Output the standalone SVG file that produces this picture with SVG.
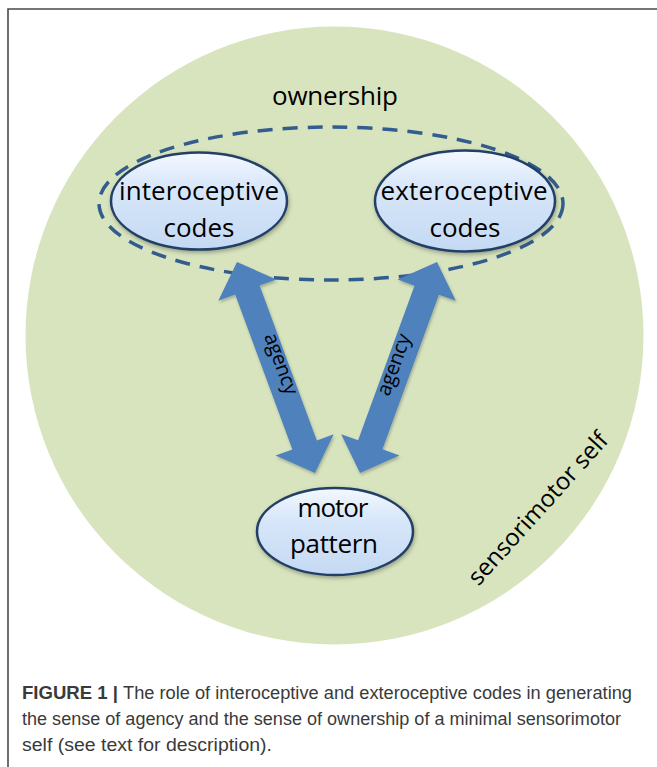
<svg xmlns="http://www.w3.org/2000/svg" width="657" height="767" viewBox="0 0 657 767">
<defs>
<linearGradient id="nodeFill" x1="0" y1="0" x2="0" y2="1">
<stop offset="0" stop-color="#F4F8FE"/>
<stop offset="0.35" stop-color="#D8E7FA"/>
<stop offset="1" stop-color="#C4D9F3"/>
</linearGradient>
<filter id="shadow" x="-20%" y="-20%" width="140%" height="150%">
<feDropShadow dx="1" dy="2" stdDeviation="2" flood-color="#000" flood-opacity="0.3"/>
</filter>
<filter id="arrowShadow" x="-20%" y="-20%" width="140%" height="140%">
<feDropShadow dx="1" dy="2" stdDeviation="1.5" flood-color="#000" flood-opacity="0.25"/>
</filter>
<style>
.node{fill:url(#nodeFill);stroke:#243F66;stroke-width:2.5;filter:url(#shadow)}
.lbl{font-family:"Open Sans","Noto Sans","DejaVu Sans",sans-serif;font-size:26px;fill:#000;text-anchor:middle}
.agency{font-family:"Open Sans","Noto Sans","DejaVu Sans",sans-serif;font-size:20px;fill:#000;text-anchor:middle}
.arrow{fill:#4F81BD;filter:url(#arrowShadow)}
.cap{font-family:"Liberation Sans",Arial,sans-serif;font-size:17.5px;fill:#3A3A3A}
</style>
</defs>
<rect width="657" height="767" fill="#FFFFFF"/>
<path d="M8,767 V9 H657" fill="none" stroke="#4A4A4A" stroke-width="1.6"/>
<g id="sensorimotor-self">
<circle cx="334.5" cy="335.5" r="309" fill="#D8E4BE"/>
<text class="lbl" font-size="24" transform="translate(544,514) rotate(-48)" style="font-size:24px" textLength="196">sensorimotor self</text>
</g>
<g id="ownership">
<ellipse cx="331" cy="203.5" rx="232" ry="76.5" fill="none" stroke="#335C8F" stroke-width="3.5" stroke-dasharray="15 10"/>
<text class="lbl" x="335" y="105" textLength="126">ownership</text>
</g>
<g id="connectors">
<g id="agency-left">
<polygon class="arrow" points="237,262 276.5,279.4 259.6,285.6 316.8,440.4 333.7,434.2 315,473 275.5,455.6 292.4,449.4 235.2,294.6 218.3,300.8"/>
<text class="agency" transform="translate(275,366) rotate(70)" textLength="64">agency</text>
</g>
<g id="agency-right">
<polygon class="arrow" points="437,262 455.8,300.8 438.9,294.7 382.5,449.3 399.4,455.4 360,473 341.2,434.2 358.1,440.3 414.5,285.7 397.6,279.6"/>
<text class="agency" transform="translate(400,367) rotate(-70)" textLength="64">agency</text>
</g>
</g>
<g id="interoceptive-codes">
<ellipse class="node" cx="199" cy="201" rx="88" ry="48.5"/>
<text class="lbl" x="199" y="200" textLength="160">interoceptive</text>
<text class="lbl" x="199" y="236.5">codes</text>
</g>
<g id="exteroceptive-codes">
<ellipse class="node" cx="465" cy="201" rx="90" ry="50.5"/>
<text class="lbl" x="464" y="200" textLength="167">exteroceptive</text>
<text class="lbl" x="465" y="236.5">codes</text>
</g>
<g id="motor-pattern">
<ellipse class="node" cx="335" cy="531.5" rx="78" ry="43.5"/>
<text class="lbl" x="333" y="517" textLength="71">motor</text>
<text class="lbl" x="334" y="553" textLength="88">pattern</text>
</g>
<g id="caption">
<text class="cap" x="22" y="699" font-weight="bold" textLength="96" lengthAdjust="spacingAndGlyphs">FIGURE 1 |</text>
<text class="cap" x="123" y="699" textLength="509" lengthAdjust="spacingAndGlyphs">The role of interoceptive and exteroceptive codes in generating</text>
<text class="cap" x="22" y="725" textLength="599" lengthAdjust="spacingAndGlyphs">the sense of agency and the sense of ownership of a minimal sensorimotor</text>
<text class="cap" x="22" y="751" textLength="250" lengthAdjust="spacingAndGlyphs">self (see text for description).</text>
</g>
</svg>
